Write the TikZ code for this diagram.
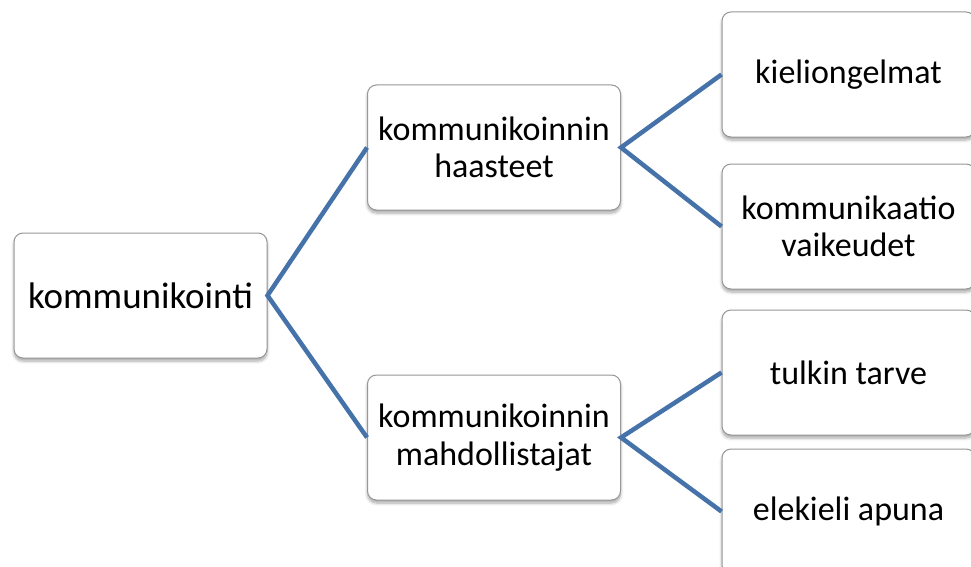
\documentclass[tikz,border=0pt]{standalone}
\usepackage{fontspec}
\setmainfont{Carlito}
\usetikzlibrary{shadows.blur}
\definecolor{linkblue}{RGB}{70,114,170}
\definecolor{boxedge}{RGB}{150,150,150}
\tikzset{
  box/.style={draw=boxedge, line width=1pt, fill=white, rounded corners=9pt,
    minimum width=253pt, minimum height=125pt, align=center, inner sep=2pt,
    font=\fontsize{34}{37.5}\selectfont,
    blur shadow={shadow xshift=0pt, shadow yshift=-3pt, shadow blur steps=6, shadow blur radius=3pt, shadow opacity=35}},
  link/.style={draw=linkblue, line width=4.5pt}
}
\begin{document}
\begin{tikzpicture}[x=1pt,y=-1pt]
\useasboundingbox (0,0) rectangle (971,567);
\node[box, font=\fontsize{37}{40}\selectfont] (root) at (140.5,295.5) {kommunikointi};
\node[box] (haas) at (494,147.5) {kommunikoinnin\\haasteet};
\node[box] (mahd) at (494,437.5) {kommunikoinnin\\mahdollistajat};
\node[box] (kiel) at (848.5,74.5) {kieliongelmat};
\node[box] (komm) at (848.5,226.5) {kommunikaatio\\vaikeudet};
\node[box] (tulk) at (848.5,372.5) {tulkin tarve};
\node[box] (elek) at (848.5,511.5) {elekieli apuna};
\draw[link] (haas.west) -- (root.east) -- (mahd.west);
\draw[link] (kiel.west) -- (haas.east) -- (komm.west);
\draw[link] (tulk.west) -- (mahd.east) -- (elek.west);
\end{tikzpicture}
\end{document}
